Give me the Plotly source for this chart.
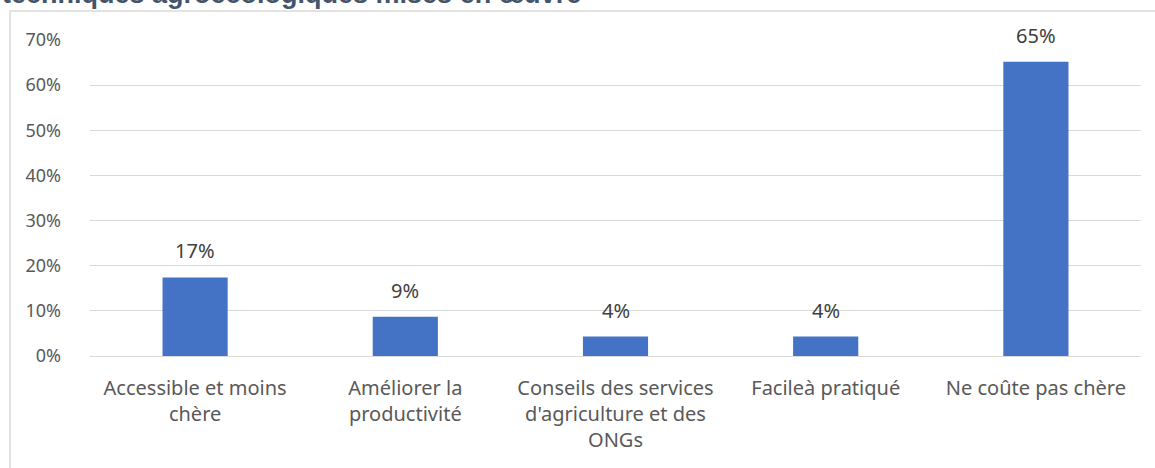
import plotly.graph_objects as go

categories = ["Accessible et moins<br>chère", "Améliorer la<br>productivité",
              "Conseils des services<br>d'agriculture et des<br>ONGs", "Facileà pratiqué",
              "Ne coûte pas chère"]
values = [0.174, 0.087, 0.043, 0.043, 0.652]
labels = ["17%", "9%", "4%", "4%", "65%"]
title_text = "techniques agroécologiques mises en œuvre"

FONT = "Noto Sans"
W, H = 1155, 468
L, R, T, B = 90, 14, 40, 112
pw, ph = W - L - R, H - T - B

fig = go.Figure()
fig.add_trace(go.Bar(x=categories, y=values, width=0.31,
                     marker=dict(color="#4472C4", line=dict(width=0)),
                     hoverinfo="skip"))

for c, v, t in zip(categories, values, labels):
    fig.add_annotation(x=c, y=v, text=t, showarrow=False, yanchor="bottom",
                       yshift=11, font=dict(family=FONT, size=20, color="#404040"))

fig.add_annotation(xref="paper", yref="paper", x=(0 - L) / pw, xanchor="left",
                   y=(ph + T + 6) / ph, yanchor="middle", text="<b>" + title_text + "</b>",
                   showarrow=False, font=dict(family="Liberation Sans", size=27, color="#44546A"))

fig.add_shape(type="rect", xref="paper", yref="paper",
              x0=(10 - L) / pw, x1=(W + 60 - L) / pw,
              y0=(T + ph - H - 60) / ph, y1=(ph + T - 11) / ph,
              line=dict(color="#D9D9D9", width=1.5), layer="below")

fig.update_layout(
    width=W, height=H, margin=dict(l=L, r=R, t=T, b=B),
    paper_bgcolor="white", plot_bgcolor="white", showlegend=False,
    font=dict(family=FONT, size=18, color="#595959"),
    bargap=0.69,
    xaxis=dict(showgrid=False, showline=True, linecolor="#D9D9D9", linewidth=1,
               ticks="", ticklabelstandoff=14, tickfont=dict(size=20, color="#595959"),
               fixedrange=True),
    yaxis=dict(range=[0, 0.7], dtick=0.1, tickformat=".0%", showgrid=True,
               gridcolor="#D9D9D9", gridwidth=1, zeroline=False, showline=False,
               ticks="", ticklabelstandoff=28, tickfont=dict(size=18, color="#595959"),
               fixedrange=True),
)

fig.write_html("out.html", config={"displayModeBar": False},
               post_script="document.body.style.margin='0';document.body.style.overflow='hidden';")
